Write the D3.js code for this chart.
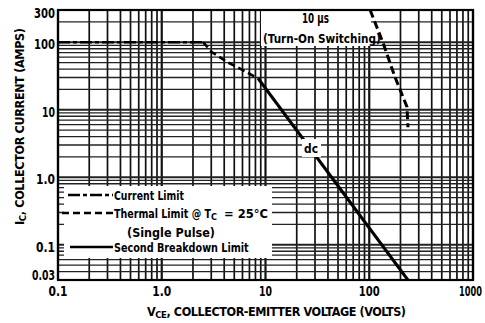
<!DOCTYPE html>
<html>
<head>
<meta charset="utf-8">
<script src="https://cdn.jsdelivr.net/npm/d3@7/dist/d3.min.js"></script>
<style>
  body { margin: 0; background: #fff; }
  svg text { font-family: "Liberation Sans Narrow", "DejaVu Sans Condensed", "Liberation Sans", sans-serif; font-weight: bold; fill: #000; }
</style>
</head>
<body>
<svg id="chart" width="485" height="323"></svg>
<script>
// Axis ticks
const xTickValues = [0.1, 1, 10, 100, 1000];
const xTickLabels = ["0.1", "1.0", "10", "100", "1000"];
const yTickValues = [0.03, 0.1, 1, 10, 100, 300];
const yTickLabels = ["0.03", "0.1", "1.0", "10", "100", "300"];

// Safe operating area boundaries (VCE volts, IC amps)
const currentLimit    = [[0.1, 100], [2.5, 100]];
const thermalLimit    = [[2.5, 100], [3.05, 71], [4.35, 50], [5.3, 43], [8.5, 29]];
const secondBreakdown = [[8.5, 29], [236, 0.03]];
const turnOn10us      = [[102, 300], [136, 97], [177, 30.5], [231, 11], [236, 5.5]];

// Legend entries
const legendLabels = ["Current Limit", "Thermal Limit @ T", "(Single Pulse)", "Second Breakdown Limit"];
const legendDashes = ["12,3,4,3", "7,4", null, "none"];

const svg = d3.select("#chart");
const L = 58, R = 473, T = 10, B = 280;

const x = d3.scaleLog().domain([0.1, 1000]).range([L, R]);
const y = d3.scaleLog().domain([0.03, 300]).range([B, T]);

// Place a label whose left edge is at (px, py) and squeeze it horizontally to width w
function fitText(parent, str, px, py, w, size) {
  const t = parent.append("text").attr("font-size", size).text(str);
  const natural = t.node().getComputedTextLength();
  const sx = natural > 0 ? w / natural : 1;
  t.attr("transform", `translate(${px},${py}) scale(${sx},1)`);
  return t;
}
const labelWidth = s => s.length === 2 ? 13 : (s.length === 3 ? (s.includes(".") ? 19 : 21) : 23);

// Log-paper grid
const vGrid = [];
[0.1, 1, 10, 100].forEach(d => { for (let k = 1; k <= 9; k++) vGrid.push(+(k * d).toPrecision(3)); });
vGrid.push(1000);
const hGrid = [];
for (let k = 3; k <= 9; k++) hGrid.push(+(k * 0.01).toPrecision(3));
[0.1, 1, 10].forEach(d => { for (let k = 1; k <= 9; k++) hGrid.push(+(k * d).toPrecision(3)); });
hGrid.push(100, 200, 300);

const isDecade = v => Math.abs(Math.log10(v) - Math.round(Math.log10(v))) < 1e-9;

const grid = svg.append("g");
grid.selectAll("line.v").data(vGrid).join("line")
  .attr("x1", d => x(d)).attr("x2", d => x(d))
  .attr("y1", T).attr("y2", B)
  .attr("stroke", "#111").attr("stroke-width", d => isDecade(d) ? 2.2 : 1.7);
grid.selectAll("line.h").data(hGrid).join("line")
  .attr("x1", L).attr("x2", R)
  .attr("y1", d => y(d)).attr("y2", d => y(d))
  .attr("stroke", "#222").attr("stroke-width", d => isDecade(d) ? 2 : 1.3);

// Cleared areas for annotations
svg.append("rect").attr("x", 64).attr("y", 186).attr("width", 208).attr("height", 72).attr("fill", "#fff");
svg.append("rect").attr("x", 261).attr("y", 11).attr("width", 110).attr("height", 35).attr("fill", "#fff");

// Frame
svg.append("rect").attr("x", L).attr("y", T).attr("width", R - L).attr("height", B - T)
  .attr("fill", "none").attr("stroke", "#000").attr("stroke-width", 2.2);

const line = d3.line().x(d => x(d[0])).y(d => y(d[1]));
const curves = svg.append("g").attr("fill", "none").attr("stroke", "#000");
curves.append("path").datum(currentLimit).attr("d", line)
  .attr("stroke-width", 2.6).attr("stroke-dasharray", "12,3,4,3");
curves.append("path").datum(thermalLimit).attr("d", line)
  .attr("stroke-width", 2.6).attr("stroke-dasharray", "7,4");
curves.append("path").datum(secondBreakdown).attr("d", line)
  .attr("stroke-width", 3);
curves.append("path").datum(turnOn10us).attr("d", line)
  .attr("stroke-width", 3).attr("stroke-dasharray", "8,4");

// "dc" label over the breakdown line
svg.append("rect").attr("x", 302).attr("y", 139).attr("width", 19).attr("height", 18).attr("fill", "#fff");
fitText(svg, "dc", 304, 153, 14, 13);

// 10 µs annotation
fitText(svg, "10 μs", 302, 23, 27, 14.5);
fitText(svg, "(Turn-On Switching)", 263, 43, 118, 13);

// Legend
const legY = [195, 213, 232, 247];
const legX0 = [68, 62, null, 70];
const legW = [70, 97, 88, 135];
const leg = svg.append("g");
legendLabels.forEach((label, i) => {
  if (legX0[i] !== null) {
    leg.append("line").attr("x1", legX0[i]).attr("x2", 113).attr("y1", legY[i]).attr("y2", legY[i])
      .attr("stroke", "#000").attr("stroke-width", 2.6)
      .attr("stroke-dasharray", legendDashes[i]);
  }
  fitText(leg, label, legX0[i] === null ? 127 : 114, legY[i] + 4.5, legW[i], 13);
});
// Case temperature condition with subscript
fitText(leg, "C", 211, legY[1] + 7, 6, 9);
fitText(leg, "= 25°C", 224, legY[1] + 4.5, 44, 13);

// Axis tick labels
const xl = svg.append("g");
xTickValues.forEach((v, i) => {
  const w = labelWidth(xTickLabels[i]);
  const left = i === xTickValues.length - 1 ? Math.min(x(v) - w / 2, 485 - w - 3) : x(v) - w / 2;
  fitText(xl, xTickLabels[i], left, 296, w, 14);
});
const yl = svg.append("g");
yTickValues.forEach((v, i) => {
  const w = labelWidth(yTickLabels[i]);
  const base = i === 0 ? B : (i === yTickValues.length - 1 ? T + 8 : y(v) + 7);
  fitText(yl, yTickLabels[i], 55 - w, base, w, 14);
});

// Axis titles
const xt = svg.append("text").attr("x", 147).attr("y", 316).attr("font-size", 12.5)
  .attr("textLength", 259).attr("lengthAdjust", "spacing");
xt.append("tspan").text("V");
xt.append("tspan").attr("font-size", 9.5).attr("dy", 2).text("CE");
xt.append("tspan").attr("dy", -2).text(", COLLECTOR-EMITTER VOLTAGE (VOLTS)");

const yt = svg.append("text").attr("transform", "translate(24,225) rotate(-90)")
  .attr("font-size", 12.5).attr("textLength", 197).attr("lengthAdjust", "spacing");
yt.append("tspan").text("I");
yt.append("tspan").attr("font-size", 9.5).attr("dy", 2).text("C");
yt.append("tspan").attr("dy", -2).text(", COLLECTOR CURRENT (AMPS)");
</script>
</body>
</html>
